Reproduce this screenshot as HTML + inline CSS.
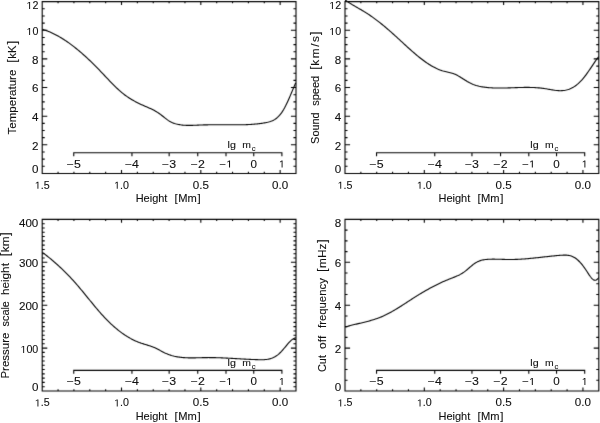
<!DOCTYPE html>
<html><head><meta charset="utf-8"><style>html,body{margin:0;padding:0;background:#fff;width:600px;height:423px;overflow:hidden}svg{display:block}</style></head>
<body><svg width="600" height="423" viewBox="0 0 600 423" font-family='"Liberation Sans", sans-serif' font-size="10.2" fill="#000">
<defs><filter id="bl" filterUnits="userSpaceOnUse" x="0" y="0" width="600" height="423" color-interpolation-filters="sRGB"><feConvolveMatrix order="3" kernelMatrix="0.0100 0.0800 0.0100 0.0800 0.6400 0.0800 0.0100 0.0800 0.0100" edgeMode="duplicate" preserveAlpha="true"/></filter></defs>
<filter id="bt" filterUnits="userSpaceOnUse" x="0" y="0" width="600" height="423" color-interpolation-filters="sRGB"><feOffset dx="0" dy="0"/></filter>
<rect width="600" height="423" fill="#fff"/>
<g filter="url(#bl)"><rect width="600" height="423" fill="#fff"/>
<path d="M42.2,1.65H296V173.45H42.2ZM58.06,173.45v-1.72M58.06,1.65v1.72M73.92,173.45v-1.72M73.92,1.65v1.72M89.79,173.45v-1.72M89.79,1.65v1.72M105.65,173.45v-1.72M105.65,1.65v1.72M121.51,173.45v-3.44M121.51,1.65v3.44M137.38,173.45v-1.72M137.38,1.65v1.72M153.24,173.45v-1.72M153.24,1.65v1.72M169.1,173.45v-1.72M169.1,1.65v1.72M184.96,173.45v-1.72M184.96,1.65v1.72M200.82,173.45v-3.44M200.82,1.65v3.44M216.69,173.45v-1.72M216.69,1.65v1.72M232.55,173.45v-1.72M232.55,1.65v1.72M248.41,173.45v-1.72M248.41,1.65v1.72M264.28,173.45v-1.72M264.28,1.65v1.72M280.14,173.45v-3.44M280.14,1.65v3.44M42.2,166.29h2.54M296,166.29h-2.54M42.2,159.13h2.54M296,159.13h-2.54M42.2,151.97h2.54M296,151.97h-2.54M42.2,144.82h5.08M296,144.82h-5.08M42.2,137.66h2.54M296,137.66h-2.54M42.2,130.5h2.54M296,130.5h-2.54M42.2,123.34h2.54M296,123.34h-2.54M42.2,116.18h5.08M296,116.18h-5.08M42.2,109.02h2.54M296,109.02h-2.54M42.2,101.87h2.54M296,101.87h-2.54M42.2,94.71h2.54M296,94.71h-2.54M42.2,87.55h5.08M296,87.55h-5.08M42.2,80.39h2.54M296,80.39h-2.54M42.2,73.23h2.54M296,73.23h-2.54M42.2,66.08h2.54M296,66.08h-2.54M42.2,58.92h5.08M296,58.92h-5.08M42.2,51.76h2.54M296,51.76h-2.54M42.2,44.6h2.54M296,44.6h-2.54M42.2,37.44h2.54M296,37.44h-2.54M42.2,30.28h5.08M296,30.28h-5.08M42.2,23.12h2.54M296,23.12h-2.54M42.2,15.97h2.54M296,15.97h-2.54M42.2,8.81h2.54M296,8.81h-2.54M73.75,156.2V152.8H281.9v3.4M131.95,152.8v3.4M169.15,152.8v3.4M197.75,152.8v3.4M226,152.8v3.4M253.75,152.8v3.4" fill="none" stroke="#000" stroke-width="1.1"/>
<path d="M42.5,29.35 43.5,29.65 44.5,29.98 45.5,30.32 46.5,30.67 47.5,31.05 48.5,31.44 49.5,31.85 50.5,32.28 51.5,32.72 52.5,33.19 53.5,33.66 54.5,34.16 55.5,34.66 56.5,35.19 57.5,35.73 58.5,36.29 59.5,36.86 60.5,37.45 61.5,38.05 62.5,38.67 63.5,39.3 64.5,39.94 65.5,40.6 66.5,41.28 67.5,41.97 68.5,42.67 69.5,43.38 70.5,44.11 71.5,44.85 72.5,45.61 73.5,46.38 74.5,47.16 75.5,47.95 76.5,48.75 77.5,49.57 78.5,50.4 79.5,51.24 80.5,52.09 81.5,52.96 82.5,53.83 83.5,54.72 84.5,55.61 85.5,56.52 86.5,57.44 87.5,58.36 88.5,59.3 89.5,60.25 90.5,61.21 91.5,62.17 92.5,63.15 93.5,64.14 94.5,65.13 95.5,66.13 96.5,67.14 97.5,68.17 98.5,69.19 99.5,70.23 100.5,71.27 101.5,72.32 102.5,73.38 103.5,74.44 104.5,75.5 105.5,76.56 106.5,77.62 107.5,78.68 108.5,79.74 109.5,80.78 110.5,81.82 111.5,82.85 112.5,83.87 113.5,84.88 114.5,85.88 115.5,86.86 116.5,87.82 117.5,88.76 118.5,89.68 119.5,90.58 120.5,91.46 121.5,92.31 122.5,93.14 123.5,93.94 124.5,94.71 125.5,95.45 126.5,96.17 127.5,96.87 128.5,97.54 129.5,98.19 130.5,98.81 131.5,99.42 132.5,100.01 133.5,100.58 134.5,101.13 135.5,101.67 136.5,102.19 137.5,102.7 138.5,103.2 139.5,103.69 140.5,104.16 141.5,104.63 142.5,105.08 143.5,105.53 144.5,105.98 145.5,106.41 146.5,106.85 147.5,107.28 148.5,107.72 149.5,108.17 150.5,108.62 151.5,109.09 152.5,109.58 153.5,110.08 154.5,110.61 155.5,111.16 156.5,111.74 157.5,112.36 158.5,113.01 159.5,113.7 160.5,114.43 161.5,115.19 162.5,115.98 163.5,116.79 164.5,117.6 165.5,118.4 166.5,119.17 167.5,119.91 168.5,120.61 169.5,121.24 170.5,121.81 171.5,122.31 172.5,122.74 173.5,123.12 174.5,123.45 175.5,123.75 176.5,124.02 177.5,124.26 178.5,124.48 179.5,124.66 180.5,124.83 181.5,124.97 182.5,125.08 183.5,125.18 184.5,125.26 185.5,125.32 186.5,125.36 187.5,125.39 188.5,125.4 189.5,125.41 190.5,125.4 191.5,125.38 192.5,125.35 193.5,125.32 194.5,125.28 195.5,125.24 196.5,125.2 197.5,125.15 198.5,125.1 199.5,125.06 200.5,125.02 201.5,124.98 202.5,124.95 203.5,124.92 204.5,124.89 205.5,124.87 206.5,124.84 207.5,124.83 208.5,124.81 209.5,124.8 210.5,124.78 211.5,124.77 212.5,124.77 213.5,124.76 214.5,124.76 215.5,124.76 216.5,124.75 217.5,124.75 218.5,124.76 219.5,124.76 220.5,124.76 221.5,124.77 222.5,124.77 223.5,124.78 224.5,124.78 225.5,124.79 226.5,124.79 227.5,124.8 228.5,124.8 229.5,124.81 230.5,124.81 231.5,124.81 232.5,124.82 233.5,124.82 234.5,124.82 235.5,124.82 236.5,124.81 237.5,124.81 238.5,124.8 239.5,124.79 240.5,124.78 241.5,124.77 242.5,124.75 243.5,124.73 244.5,124.7 245.5,124.68 246.5,124.64 247.5,124.6 248.5,124.56 249.5,124.51 250.5,124.45 251.5,124.39 252.5,124.32 253.5,124.25 254.5,124.16 255.5,124.07 256.5,123.98 257.5,123.87 258.5,123.75 259.5,123.63 260.5,123.5 261.5,123.35 262.5,123.2 263.5,123.04 264.5,122.86 265.5,122.68 266.5,122.48 267.5,122.27 268.5,122.03 269.5,121.76 270.5,121.45 271.5,121.09 272.5,120.67 273.5,120.18 274.5,119.62 275.5,118.97 276.5,118.23 277.5,117.39 278.5,116.44 279.5,115.37 280.5,114.18 281.5,112.85 282.5,111.38 283.5,109.75 284.5,107.98 285.5,106.07 286.5,104.05 287.5,101.93 288.5,99.73 289.5,97.46 290.5,95.13 291.5,92.78 292.5,90.4 293.5,88.02 294.5,85.66 295.5,83.33 295.7,82.87" fill="none" stroke="#000" stroke-width="1.1" stroke-linejoin="round"/>
<path d="M345,1.65H598.8V173.45H345ZM360.86,173.45v-1.72M360.86,1.65v1.72M376.72,173.45v-1.72M376.72,1.65v1.72M392.59,173.45v-1.72M392.59,1.65v1.72M408.45,173.45v-1.72M408.45,1.65v1.72M424.31,173.45v-3.44M424.31,1.65v3.44M440.18,173.45v-1.72M440.18,1.65v1.72M456.04,173.45v-1.72M456.04,1.65v1.72M471.9,173.45v-1.72M471.9,1.65v1.72M487.76,173.45v-1.72M487.76,1.65v1.72M503.62,173.45v-3.44M503.62,1.65v3.44M519.49,173.45v-1.72M519.49,1.65v1.72M535.35,173.45v-1.72M535.35,1.65v1.72M551.21,173.45v-1.72M551.21,1.65v1.72M567.08,173.45v-1.72M567.08,1.65v1.72M582.94,173.45v-3.44M582.94,1.65v3.44M345,166.29h2.54M598.8,166.29h-2.54M345,159.13h2.54M598.8,159.13h-2.54M345,151.97h2.54M598.8,151.97h-2.54M345,144.82h5.08M598.8,144.82h-5.08M345,137.66h2.54M598.8,137.66h-2.54M345,130.5h2.54M598.8,130.5h-2.54M345,123.34h2.54M598.8,123.34h-2.54M345,116.18h5.08M598.8,116.18h-5.08M345,109.02h2.54M598.8,109.02h-2.54M345,101.87h2.54M598.8,101.87h-2.54M345,94.71h2.54M598.8,94.71h-2.54M345,87.55h5.08M598.8,87.55h-5.08M345,80.39h2.54M598.8,80.39h-2.54M345,73.23h2.54M598.8,73.23h-2.54M345,66.08h2.54M598.8,66.08h-2.54M345,58.92h5.08M598.8,58.92h-5.08M345,51.76h2.54M598.8,51.76h-2.54M345,44.6h2.54M598.8,44.6h-2.54M345,37.44h2.54M598.8,37.44h-2.54M345,30.28h5.08M598.8,30.28h-5.08M345,23.12h2.54M598.8,23.12h-2.54M345,15.97h2.54M598.8,15.97h-2.54M345,8.81h2.54M598.8,8.81h-2.54M376.55,156.2V152.8H584.7v3.4M434.75,152.8v3.4M471.95,152.8v3.4M500.55,152.8v3.4M528.8,152.8v3.4M556.55,152.8v3.4" fill="none" stroke="#000" stroke-width="1.1"/>
<path d="M345.2,0.07 346.2,0.77 347.2,1.45 348.2,2.11 349.2,2.75 350.2,3.38 351.2,4 352.2,4.61 353.2,5.2 354.2,5.79 355.2,6.38 356.2,6.96 357.2,7.54 358.2,8.11 359.2,8.69 360.2,9.27 361.2,9.85 362.2,10.44 363.2,11.03 364.2,11.64 365.2,12.25 366.2,12.87 367.2,13.51 368.2,14.16 369.2,14.82 370.2,15.5 371.2,16.19 372.2,16.89 373.2,17.6 374.2,18.33 375.2,19.07 376.2,19.82 377.2,20.57 378.2,21.34 379.2,22.13 380.2,22.92 381.2,23.72 382.2,24.53 383.2,25.35 384.2,26.17 385.2,27.01 386.2,27.86 387.2,28.71 388.2,29.57 389.2,30.44 390.2,31.32 391.2,32.2 392.2,33.09 393.2,33.98 394.2,34.89 395.2,35.79 396.2,36.7 397.2,37.62 398.2,38.54 399.2,39.46 400.2,40.38 401.2,41.3 402.2,42.22 403.2,43.15 404.2,44.07 405.2,44.99 406.2,45.9 407.2,46.81 408.2,47.72 409.2,48.62 410.2,49.52 411.2,50.41 412.2,51.29 413.2,52.17 414.2,53.03 415.2,53.89 416.2,54.73 417.2,55.57 418.2,56.39 419.2,57.2 420.2,58 421.2,58.78 422.2,59.55 423.2,60.3 424.2,61.04 425.2,61.76 426.2,62.46 427.2,63.14 428.2,63.81 429.2,64.45 430.2,65.08 431.2,65.68 432.2,66.26 433.2,66.82 434.2,67.35 435.2,67.86 436.2,68.35 437.2,68.81 438.2,69.24 439.2,69.64 440.2,70.02 441.2,70.37 442.2,70.69 443.2,70.98 444.2,71.24 445.2,71.49 446.2,71.73 447.2,71.96 448.2,72.19 449.2,72.42 450.2,72.67 451.2,72.95 452.2,73.24 453.2,73.57 454.2,73.94 455.2,74.36 456.2,74.82 457.2,75.32 458.2,75.87 459.2,76.44 460.2,77.04 461.2,77.66 462.2,78.29 463.2,78.93 464.2,79.57 465.2,80.21 466.2,80.83 467.2,81.44 468.2,82.02 469.2,82.58 470.2,83.1 471.2,83.58 472.2,84.03 473.2,84.44 474.2,84.82 475.2,85.16 476.2,85.48 477.2,85.76 478.2,86.02 479.2,86.26 480.2,86.47 481.2,86.67 482.2,86.84 483.2,87 484.2,87.14 485.2,87.27 486.2,87.39 487.2,87.5 488.2,87.59 489.2,87.68 490.2,87.75 491.2,87.82 492.2,87.88 493.2,87.93 494.2,87.97 495.2,88 496.2,88.02 497.2,88.04 498.2,88.05 499.2,88.06 500.2,88.06 501.2,88.05 502.2,88.04 503.2,88.03 504.2,88.01 505.2,87.99 506.2,87.96 507.2,87.93 508.2,87.9 509.2,87.87 510.2,87.84 511.2,87.8 512.2,87.77 513.2,87.73 514.2,87.69 515.2,87.66 516.2,87.62 517.2,87.59 518.2,87.56 519.2,87.53 520.2,87.5 521.2,87.48 522.2,87.45 523.2,87.44 524.2,87.42 525.2,87.41 526.2,87.4 527.2,87.4 528.2,87.41 529.2,87.42 530.2,87.43 531.2,87.46 532.2,87.49 533.2,87.52 534.2,87.57 535.2,87.62 536.2,87.68 537.2,87.75 538.2,87.83 539.2,87.92 540.2,88.02 541.2,88.13 542.2,88.24 543.2,88.37 544.2,88.52 545.2,88.67 546.2,88.83 547.2,89 548.2,89.18 549.2,89.36 550.2,89.53 551.2,89.71 552.2,89.88 553.2,90.04 554.2,90.18 555.2,90.32 556.2,90.43 557.2,90.53 558.2,90.61 559.2,90.66 560.2,90.68 561.2,90.67 562.2,90.63 563.2,90.55 564.2,90.44 565.2,90.28 566.2,90.08 567.2,89.83 568.2,89.54 569.2,89.19 570.2,88.79 571.2,88.33 572.2,87.82 573.2,87.26 574.2,86.64 575.2,85.96 576.2,85.22 577.2,84.43 578.2,83.58 579.2,82.67 580.2,81.69 581.2,80.66 582.2,79.57 583.2,78.41 584.2,77.19 585.2,75.9 586.2,74.57 587.2,73.18 588.2,71.75 589.2,70.3 590.2,68.82 591.2,67.33 592.2,65.84 593.2,64.34 594.2,62.86 595.2,61.4 596.2,59.97 597.2,58.57 598.2,57.22 598.6,56.69" fill="none" stroke="#000" stroke-width="1.1" stroke-linejoin="round"/>
<path d="M42.2,219.4H296V391H42.2ZM58.06,391v-1.72M58.06,219.4v1.72M73.92,391v-1.72M73.92,219.4v1.72M89.79,391v-1.72M89.79,219.4v1.72M105.65,391v-1.72M105.65,219.4v1.72M121.51,391v-3.43M121.51,219.4v3.43M137.38,391v-1.72M137.38,219.4v1.72M153.24,391v-1.72M153.24,219.4v1.72M169.1,391v-1.72M169.1,219.4v1.72M184.96,391v-1.72M184.96,219.4v1.72M200.82,391v-3.43M200.82,219.4v3.43M216.69,391v-1.72M216.69,219.4v1.72M232.55,391v-1.72M232.55,219.4v1.72M248.41,391v-1.72M248.41,219.4v1.72M264.28,391v-1.72M264.28,219.4v1.72M280.14,391v-3.43M280.14,219.4v3.43M42.2,386.71h2.54M296,386.71h-2.54M42.2,382.42h2.54M296,382.42h-2.54M42.2,378.13h2.54M296,378.13h-2.54M42.2,373.84h2.54M296,373.84h-2.54M42.2,369.55h2.54M296,369.55h-2.54M42.2,365.26h2.54M296,365.26h-2.54M42.2,360.97h2.54M296,360.97h-2.54M42.2,356.68h2.54M296,356.68h-2.54M42.2,352.39h2.54M296,352.39h-2.54M42.2,348.1h5.08M296,348.1h-5.08M42.2,343.81h2.54M296,343.81h-2.54M42.2,339.52h2.54M296,339.52h-2.54M42.2,335.23h2.54M296,335.23h-2.54M42.2,330.94h2.54M296,330.94h-2.54M42.2,326.65h2.54M296,326.65h-2.54M42.2,322.36h2.54M296,322.36h-2.54M42.2,318.07h2.54M296,318.07h-2.54M42.2,313.78h2.54M296,313.78h-2.54M42.2,309.49h2.54M296,309.49h-2.54M42.2,305.2h5.08M296,305.2h-5.08M42.2,300.91h2.54M296,300.91h-2.54M42.2,296.62h2.54M296,296.62h-2.54M42.2,292.33h2.54M296,292.33h-2.54M42.2,288.04h2.54M296,288.04h-2.54M42.2,283.75h2.54M296,283.75h-2.54M42.2,279.46h2.54M296,279.46h-2.54M42.2,275.17h2.54M296,275.17h-2.54M42.2,270.88h2.54M296,270.88h-2.54M42.2,266.59h2.54M296,266.59h-2.54M42.2,262.3h5.08M296,262.3h-5.08M42.2,258.01h2.54M296,258.01h-2.54M42.2,253.72h2.54M296,253.72h-2.54M42.2,249.43h2.54M296,249.43h-2.54M42.2,245.14h2.54M296,245.14h-2.54M42.2,240.85h2.54M296,240.85h-2.54M42.2,236.56h2.54M296,236.56h-2.54M42.2,232.27h2.54M296,232.27h-2.54M42.2,227.98h2.54M296,227.98h-2.54M42.2,223.69h2.54M296,223.69h-2.54M73.75,373.75V370.35H281.9v3.4M131.95,370.35v3.4M169.15,370.35v3.4M197.75,370.35v3.4M226,370.35v3.4M253.75,370.35v3.4" fill="none" stroke="#000" stroke-width="1.1"/>
<path d="M42.4,252.35 43.4,253.11 44.4,253.88 45.4,254.67 46.4,255.45 47.4,256.25 48.4,257.06 49.4,257.87 50.4,258.7 51.4,259.53 52.4,260.38 53.4,261.23 54.4,262.09 55.4,262.97 56.4,263.85 57.4,264.74 58.4,265.65 59.4,266.57 60.4,267.5 61.4,268.44 62.4,269.39 63.4,270.35 64.4,271.33 65.4,272.32 66.4,273.32 67.4,274.33 68.4,275.36 69.4,276.4 70.4,277.46 71.4,278.53 72.4,279.61 73.4,280.71 74.4,281.82 75.4,282.95 76.4,284.09 77.4,285.25 78.4,286.42 79.4,287.6 80.4,288.79 81.4,289.99 82.4,291.19 83.4,292.41 84.4,293.62 85.4,294.85 86.4,296.07 87.4,297.3 88.4,298.53 89.4,299.76 90.4,300.98 91.4,302.21 92.4,303.43 93.4,304.64 94.4,305.85 95.4,307.05 96.4,308.24 97.4,309.42 98.4,310.59 99.4,311.74 100.4,312.89 101.4,314.01 102.4,315.13 103.4,316.22 104.4,317.3 105.4,318.35 106.4,319.39 107.4,320.41 108.4,321.41 109.4,322.39 110.4,323.35 111.4,324.29 112.4,325.21 113.4,326.11 114.4,326.99 115.4,327.85 116.4,328.69 117.4,329.52 118.4,330.32 119.4,331.1 120.4,331.86 121.4,332.6 122.4,333.33 123.4,334.03 124.4,334.71 125.4,335.37 126.4,336.02 127.4,336.64 128.4,337.24 129.4,337.82 130.4,338.39 131.4,338.93 132.4,339.45 133.4,339.95 134.4,340.43 135.4,340.89 136.4,341.34 137.4,341.76 138.4,342.16 139.4,342.54 140.4,342.89 141.4,343.24 142.4,343.56 143.4,343.88 144.4,344.19 145.4,344.49 146.4,344.8 147.4,345.1 148.4,345.42 149.4,345.74 150.4,346.07 151.4,346.42 152.4,346.79 153.4,347.19 154.4,347.61 155.4,348.06 156.4,348.54 157.4,349.04 158.4,349.56 159.4,350.09 160.4,350.62 161.4,351.16 162.4,351.69 163.4,352.2 164.4,352.7 165.4,353.17 166.4,353.61 167.4,354.02 168.4,354.41 169.4,354.78 170.4,355.11 171.4,355.43 172.4,355.72 173.4,355.98 174.4,356.23 175.4,356.45 176.4,356.66 177.4,356.84 178.4,357.01 179.4,357.16 180.4,357.29 181.4,357.41 182.4,357.51 183.4,357.6 184.4,357.67 185.4,357.73 186.4,357.78 187.4,357.82 188.4,357.85 189.4,357.87 190.4,357.88 191.4,357.88 192.4,357.88 193.4,357.87 194.4,357.85 195.4,357.83 196.4,357.81 197.4,357.79 198.4,357.76 199.4,357.73 200.4,357.7 201.4,357.68 202.4,357.65 203.4,357.63 204.4,357.61 205.4,357.59 206.4,357.58 207.4,357.58 208.4,357.57 209.4,357.58 210.4,357.58 211.4,357.59 212.4,357.6 213.4,357.62 214.4,357.64 215.4,357.66 216.4,357.69 217.4,357.72 218.4,357.75 219.4,357.78 220.4,357.82 221.4,357.86 222.4,357.9 223.4,357.95 224.4,357.99 225.4,358.04 226.4,358.09 227.4,358.14 228.4,358.19 229.4,358.25 230.4,358.3 231.4,358.36 232.4,358.41 233.4,358.47 234.4,358.53 235.4,358.58 236.4,358.64 237.4,358.7 238.4,358.76 239.4,358.82 240.4,358.87 241.4,358.93 242.4,358.99 243.4,359.04 244.4,359.1 245.4,359.15 246.4,359.2 247.4,359.25 248.4,359.3 249.4,359.35 250.4,359.4 251.4,359.44 252.4,359.48 253.4,359.52 254.4,359.56 255.4,359.6 256.4,359.63 257.4,359.66 258.4,359.69 259.4,359.71 260.4,359.73 261.4,359.73 262.4,359.72 263.4,359.69 264.4,359.64 265.4,359.56 266.4,359.45 267.4,359.31 268.4,359.12 269.4,358.9 270.4,358.63 271.4,358.31 272.4,357.93 273.4,357.5 274.4,357 275.4,356.44 276.4,355.81 277.4,355.11 278.4,354.33 279.4,353.47 280.4,352.52 281.4,351.49 282.4,350.38 283.4,349.21 284.4,348.01 285.4,346.78 286.4,345.56 287.4,344.36 288.4,343.21 289.4,342.11 290.4,341.09 291.4,340.17 292.4,339.37 293.4,338.71 294.4,338.21 295.4,337.88 295.8,337.81" fill="none" stroke="#000" stroke-width="1.1" stroke-linejoin="round"/>
<path d="M345,219.4H598.8V391H345ZM360.86,391v-1.72M360.86,219.4v1.72M376.72,391v-1.72M376.72,219.4v1.72M392.59,391v-1.72M392.59,219.4v1.72M408.45,391v-1.72M408.45,219.4v1.72M424.31,391v-3.43M424.31,219.4v3.43M440.18,391v-1.72M440.18,219.4v1.72M456.04,391v-1.72M456.04,219.4v1.72M471.9,391v-1.72M471.9,219.4v1.72M487.76,391v-1.72M487.76,219.4v1.72M503.62,391v-3.43M503.62,219.4v3.43M519.49,391v-1.72M519.49,219.4v1.72M535.35,391v-1.72M535.35,219.4v1.72M551.21,391v-1.72M551.21,219.4v1.72M567.08,391v-1.72M567.08,219.4v1.72M582.94,391v-3.43M582.94,219.4v3.43M345,380.27h2.54M598.8,380.27h-2.54M345,369.55h2.54M598.8,369.55h-2.54M345,358.82h2.54M598.8,358.82h-2.54M345,348.1h5.08M598.8,348.1h-5.08M345,337.38h2.54M598.8,337.38h-2.54M345,326.65h2.54M598.8,326.65h-2.54M345,315.93h2.54M598.8,315.93h-2.54M345,305.2h5.08M598.8,305.2h-5.08M345,294.48h2.54M598.8,294.48h-2.54M345,283.75h2.54M598.8,283.75h-2.54M345,273.02h2.54M598.8,273.02h-2.54M345,262.3h5.08M598.8,262.3h-5.08M345,251.58h2.54M598.8,251.58h-2.54M345,240.85h2.54M598.8,240.85h-2.54M345,230.12h2.54M598.8,230.12h-2.54M376.55,373.75V370.35H584.7v3.4M434.75,370.35v3.4M471.95,370.35v3.4M500.55,370.35v3.4M528.8,370.35v3.4M556.55,370.35v3.4" fill="none" stroke="#000" stroke-width="1.1"/>
<path d="M345.3,327 346.3,326.7 347.3,326.41 348.3,326.13 349.3,325.86 350.3,325.59 351.3,325.33 352.3,325.08 353.3,324.83 354.3,324.59 355.3,324.34 356.3,324.1 357.3,323.87 358.3,323.63 359.3,323.4 360.3,323.16 361.3,322.92 362.3,322.68 363.3,322.44 364.3,322.2 365.3,321.95 366.3,321.7 367.3,321.44 368.3,321.18 369.3,320.91 370.3,320.63 371.3,320.34 372.3,320.05 373.3,319.74 374.3,319.43 375.3,319.1 376.3,318.76 377.3,318.41 378.3,318.05 379.3,317.67 380.3,317.28 381.3,316.88 382.3,316.45 383.3,316.01 384.3,315.56 385.3,315.08 386.3,314.6 387.3,314.09 388.3,313.58 389.3,313.05 390.3,312.51 391.3,311.96 392.3,311.39 393.3,310.82 394.3,310.23 395.3,309.64 396.3,309.04 397.3,308.43 398.3,307.81 399.3,307.19 400.3,306.56 401.3,305.92 402.3,305.28 403.3,304.64 404.3,303.99 405.3,303.35 406.3,302.7 407.3,302.05 408.3,301.4 409.3,300.74 410.3,300.09 411.3,299.45 412.3,298.8 413.3,298.16 414.3,297.52 415.3,296.88 416.3,296.25 417.3,295.63 418.3,295.01 419.3,294.4 420.3,293.79 421.3,293.19 422.3,292.59 423.3,292.01 424.3,291.42 425.3,290.85 426.3,290.28 427.3,289.71 428.3,289.16 429.3,288.6 430.3,288.06 431.3,287.52 432.3,286.99 433.3,286.47 434.3,285.95 435.3,285.44 436.3,284.94 437.3,284.44 438.3,283.95 439.3,283.47 440.3,283 441.3,282.53 442.3,282.07 443.3,281.62 444.3,281.18 445.3,280.74 446.3,280.31 447.3,279.89 448.3,279.48 449.3,279.07 450.3,278.68 451.3,278.29 452.3,277.9 453.3,277.51 454.3,277.12 455.3,276.71 456.3,276.29 457.3,275.85 458.3,275.39 459.3,274.9 460.3,274.38 461.3,273.82 462.3,273.22 463.3,272.58 464.3,271.89 465.3,271.15 466.3,270.35 467.3,269.52 468.3,268.66 469.3,267.78 470.3,266.91 471.3,266.05 472.3,265.22 473.3,264.42 474.3,263.68 475.3,263 476.3,262.4 477.3,261.86 478.3,261.39 479.3,260.98 480.3,260.63 481.3,260.32 482.3,260.07 483.3,259.85 484.3,259.68 485.3,259.54 486.3,259.43 487.3,259.34 488.3,259.28 489.3,259.24 490.3,259.21 491.3,259.18 492.3,259.17 493.3,259.17 494.3,259.17 495.3,259.18 496.3,259.19 497.3,259.21 498.3,259.24 499.3,259.26 500.3,259.29 501.3,259.32 502.3,259.35 503.3,259.38 504.3,259.41 505.3,259.44 506.3,259.46 507.3,259.48 508.3,259.49 509.3,259.5 510.3,259.51 511.3,259.5 512.3,259.49 513.3,259.48 514.3,259.45 515.3,259.42 516.3,259.39 517.3,259.35 518.3,259.3 519.3,259.25 520.3,259.2 521.3,259.14 522.3,259.07 523.3,259 524.3,258.93 525.3,258.85 526.3,258.77 527.3,258.69 528.3,258.6 529.3,258.51 530.3,258.42 531.3,258.32 532.3,258.22 533.3,258.12 534.3,258.02 535.3,257.91 536.3,257.81 537.3,257.7 538.3,257.59 539.3,257.48 540.3,257.37 541.3,257.26 542.3,257.14 543.3,257.03 544.3,256.92 545.3,256.81 546.3,256.7 547.3,256.59 548.3,256.48 549.3,256.37 550.3,256.27 551.3,256.16 552.3,256.06 553.3,255.96 554.3,255.86 555.3,255.76 556.3,255.66 557.3,255.57 558.3,255.48 559.3,255.4 560.3,255.32 561.3,255.24 562.3,255.18 563.3,255.13 564.3,255.11 565.3,255.11 566.3,255.15 567.3,255.23 568.3,255.36 569.3,255.54 570.3,255.78 571.3,256.08 572.3,256.46 573.3,256.91 574.3,257.44 575.3,258.06 576.3,258.78 577.3,259.59 578.3,260.5 579.3,261.49 580.3,262.57 581.3,263.72 582.3,264.95 583.3,266.25 584.3,267.62 585.3,269.05 586.3,270.53 587.3,272.06 588.3,273.6 589.3,275.11 590.3,276.51 591.3,277.78 592.3,278.84 593.3,279.64 594.3,280.14 595.3,280.28 596.3,280 597.3,279.25 598.3,277.97 598.6,277.47" fill="none" stroke="#000" stroke-width="1.1" stroke-linejoin="round"/>
</g>
<g fill="#111" stroke="#111" stroke-width="0.1" filter="url(#bt)"><g><text transform="translate(34.76,188.85) scale(1.05,1)"> .5</text><path d="M515 0V1237L197 1010V1180L530 1409H696V0Z" stroke="none" transform="translate(34.76,188.85) scale(0.00523,-0.00498)"/><text transform="translate(114.07,188.85) scale(1.05,1)"> .0</text><path d="M515 0V1237L197 1010V1180L530 1409H696V0Z" stroke="none" transform="translate(114.07,188.85) scale(0.00523,-0.00498)"/><text transform="translate(192.74,188.85) scale(1.14,1)">0.5</text><text transform="translate(272.06,188.85) scale(1.14,1)">0.0</text><text transform="translate(31.88,173.35) scale(1.14,1)">0</text><text transform="translate(31.88,149.62) scale(1.14,1)">2</text><text transform="translate(31.88,120.98) scale(1.14,1)">4</text><text transform="translate(31.88,92.35) scale(1.14,1)">6</text><text transform="translate(31.88,63.72) scale(1.14,1)">8</text><text transform="translate(26.44,35.08) scale(1.05,1)"> 0</text><path d="M515 0V1237L197 1010V1180L530 1409H696V0Z" stroke="none" transform="translate(26.44,35.08) scale(0.00523,-0.00498)"/><text transform="translate(26.44,9) scale(1.05,1)"> 2</text><path d="M515 0V1237L197 1010V1180L530 1409H696V0Z" stroke="none" transform="translate(26.44,9) scale(0.00523,-0.00498)"/><text transform="translate(66.71,167.55) scale(1.21,1)">−5</text><text transform="translate(124.91,167.55) scale(1.21,1)">−4</text><text transform="translate(162.11,167.55) scale(1.21,1)">−3</text><text transform="translate(190.71,167.55) scale(1.21,1)">−2</text><text transform="translate(219.49,167.55) scale(1.12,1)">− </text><path d="M515 0V1237L197 1010V1180L530 1409H696V0Z" stroke="none" transform="translate(226.16,167.55) scale(0.00558,-0.00498)"/><text transform="translate(250.52,167.55) scale(1.14,1)">0</text><text transform="translate(278.92,167.55) scale(1.05,1)"> </text><path d="M515 0V1237L197 1010V1180L530 1409H696V0Z" stroke="none" transform="translate(278.92,167.55) scale(0.00523,-0.00498)"/><text transform="translate(228.25,148.05) scale(1.1118,1)" x="-0.65" y="0" font-size="9.6">lg</text><text transform="translate(242.85,148.05) scale(1.0852,1)" x="-0.64" y="0" font-size="9.6">m</text><text x="251.7" y="151.1" font-size="7.6">c</text><text transform="translate(136.55,202.05) scale(1.0779,1)" x="-0.84" y="0">Height</text><text transform="translate(175.4,202.05) scale(1.0014,1)" x="-0.82" y="0" font-size="11.5">[</text><text transform="translate(179.19,202.05) scale(1.0929,1)" x="-0.84" y="0">Mm</text><text transform="translate(197.61,202.05) scale(1.0014,1)" x="-0.09" y="0" font-size="11.5">]</text><text transform="translate(16,134.2) rotate(-90) scale(1.1315,1.04)" x="-0.23" y="0">Temperature</text><text transform="translate(16,61.7) rotate(-90) scale(1.0014,1.04)" x="-0.82" y="0" font-size="11.5">[</text><text transform="translate(16,57.91) rotate(-90) scale(1.1010,1.04)" x="-0.69" y="0">kK</text><text transform="translate(16,44.19) rotate(-90) scale(1.0014,1.04)" x="-0.09" y="0" font-size="11.5">]</text></g>
<g><text transform="translate(337.56,188.85) scale(1.05,1)"> .5</text><path d="M515 0V1237L197 1010V1180L530 1409H696V0Z" stroke="none" transform="translate(337.56,188.85) scale(0.00523,-0.00498)"/><text transform="translate(416.87,188.85) scale(1.05,1)"> .0</text><path d="M515 0V1237L197 1010V1180L530 1409H696V0Z" stroke="none" transform="translate(416.87,188.85) scale(0.00523,-0.00498)"/><text transform="translate(495.54,188.85) scale(1.14,1)">0.5</text><text transform="translate(574.86,188.85) scale(1.14,1)">0.0</text><text transform="translate(334.68,173.35) scale(1.14,1)">0</text><text transform="translate(334.68,149.62) scale(1.14,1)">2</text><text transform="translate(334.68,120.98) scale(1.14,1)">4</text><text transform="translate(334.68,92.35) scale(1.14,1)">6</text><text transform="translate(334.68,63.72) scale(1.14,1)">8</text><text transform="translate(329.24,35.08) scale(1.05,1)"> 0</text><path d="M515 0V1237L197 1010V1180L530 1409H696V0Z" stroke="none" transform="translate(329.24,35.08) scale(0.00523,-0.00498)"/><text transform="translate(329.24,9) scale(1.05,1)"> 2</text><path d="M515 0V1237L197 1010V1180L530 1409H696V0Z" stroke="none" transform="translate(329.24,9) scale(0.00523,-0.00498)"/><text transform="translate(369.51,167.55) scale(1.21,1)">−5</text><text transform="translate(427.71,167.55) scale(1.21,1)">−4</text><text transform="translate(464.91,167.55) scale(1.21,1)">−3</text><text transform="translate(493.51,167.55) scale(1.21,1)">−2</text><text transform="translate(522.29,167.55) scale(1.12,1)">− </text><path d="M515 0V1237L197 1010V1180L530 1409H696V0Z" stroke="none" transform="translate(528.96,167.55) scale(0.00558,-0.00498)"/><text transform="translate(553.32,167.55) scale(1.14,1)">0</text><text transform="translate(581.72,167.55) scale(1.05,1)"> </text><path d="M515 0V1237L197 1010V1180L530 1409H696V0Z" stroke="none" transform="translate(581.72,167.55) scale(0.00523,-0.00498)"/><text transform="translate(531.05,148.05) scale(1.1118,1)" x="-0.65" y="0" font-size="9.6">lg</text><text transform="translate(545.65,148.05) scale(1.0852,1)" x="-0.64" y="0" font-size="9.6">m</text><text x="554.5" y="151.1" font-size="7.6">c</text><text transform="translate(439.35,202.05) scale(1.0779,1)" x="-0.84" y="0">Height</text><text transform="translate(478.2,202.05) scale(1.0014,1)" x="-0.82" y="0" font-size="11.5">[</text><text transform="translate(481.99,202.05) scale(1.0929,1)" x="-0.84" y="0">Mm</text><text transform="translate(500.41,202.05) scale(1.0014,1)" x="-0.09" y="0" font-size="11.5">]</text><text transform="translate(319.2,143.4) rotate(-90) scale(1.0714,1.04)" x="-0.46" y="0">Sound</text><text transform="translate(319.2,105.5) rotate(-90) scale(1.0801,1.04)" x="-0.28" y="0">speed</text><text transform="translate(319.2,68.7) rotate(-90) scale(1.0014,1.04)" x="-0.82" y="0" font-size="11.5">[</text><text transform="translate(319.2,64.91) rotate(-90) scale(1.1600,1.04)" x="-0.69" y="0" letter-spacing="1.343">km/s</text><text transform="translate(319.2,34.99) rotate(-90) scale(1.0014,1.04)" x="-0.09" y="0" font-size="11.5">]</text></g>
<g><text transform="translate(34.76,406.4) scale(1.05,1)"> .5</text><path d="M515 0V1237L197 1010V1180L530 1409H696V0Z" stroke="none" transform="translate(34.76,406.4) scale(0.00523,-0.00498)"/><text transform="translate(114.07,406.4) scale(1.05,1)"> .0</text><path d="M515 0V1237L197 1010V1180L530 1409H696V0Z" stroke="none" transform="translate(114.07,406.4) scale(0.00523,-0.00498)"/><text transform="translate(192.74,406.4) scale(1.14,1)">0.5</text><text transform="translate(272.06,406.4) scale(1.14,1)">0.0</text><text transform="translate(31.88,390.9) scale(1.14,1)">0</text><text transform="translate(20.48,352.9) scale(1.05,1)"> 00</text><path d="M515 0V1237L197 1010V1180L530 1409H696V0Z" stroke="none" transform="translate(20.48,352.9) scale(0.00523,-0.00498)"/><text transform="translate(18.95,310) scale(1.14,1)">200</text><text transform="translate(18.95,267.1) scale(1.14,1)">300</text><text transform="translate(18.95,226.75) scale(1.14,1)">400</text><text transform="translate(66.71,385.1) scale(1.21,1)">−5</text><text transform="translate(124.91,385.1) scale(1.21,1)">−4</text><text transform="translate(162.11,385.1) scale(1.21,1)">−3</text><text transform="translate(190.71,385.1) scale(1.21,1)">−2</text><text transform="translate(219.49,385.1) scale(1.12,1)">− </text><path d="M515 0V1237L197 1010V1180L530 1409H696V0Z" stroke="none" transform="translate(226.16,385.1) scale(0.00558,-0.00498)"/><text transform="translate(250.52,385.1) scale(1.14,1)">0</text><text transform="translate(278.92,385.1) scale(1.05,1)"> </text><path d="M515 0V1237L197 1010V1180L530 1409H696V0Z" stroke="none" transform="translate(278.92,385.1) scale(0.00523,-0.00498)"/><text transform="translate(228.25,365.6) scale(1.1118,1)" x="-0.65" y="0" font-size="9.6">lg</text><text transform="translate(242.85,365.6) scale(1.0852,1)" x="-0.64" y="0" font-size="9.6">m</text><text x="251.7" y="368.65" font-size="7.6">c</text><text transform="translate(136.55,419.6) scale(1.0779,1)" x="-0.84" y="0">Height</text><text transform="translate(175.4,419.6) scale(1.0014,1)" x="-0.82" y="0" font-size="11.5">[</text><text transform="translate(179.19,419.6) scale(1.0929,1)" x="-0.84" y="0">Mm</text><text transform="translate(197.61,419.6) scale(1.0014,1)" x="-0.09" y="0" font-size="11.5">]</text><text transform="translate(9,377.6) rotate(-90) scale(1.1284,1.04)" x="-0.84" y="0">Pressure</text><text transform="translate(9,326.2) rotate(-90) scale(1.0661,1.04)" x="-0.28" y="0">scale</text><text transform="translate(9,294.3) rotate(-90) scale(1.1515,1.04)" x="-0.71" y="0">height</text><text transform="translate(9,255.3) rotate(-90) scale(1.0014,1.04)" x="-0.82" y="0" font-size="11.5">[</text><text transform="translate(9,251.51) rotate(-90) scale(1.1600,1.04)" x="-0.69" y="0" letter-spacing="0.110">km</text><text transform="translate(9,235.69) rotate(-90) scale(1.0014,1.04)" x="-0.09" y="0" font-size="11.5">]</text></g>
<g><text transform="translate(337.56,406.4) scale(1.05,1)"> .5</text><path d="M515 0V1237L197 1010V1180L530 1409H696V0Z" stroke="none" transform="translate(337.56,406.4) scale(0.00523,-0.00498)"/><text transform="translate(416.87,406.4) scale(1.05,1)"> .0</text><path d="M515 0V1237L197 1010V1180L530 1409H696V0Z" stroke="none" transform="translate(416.87,406.4) scale(0.00523,-0.00498)"/><text transform="translate(495.54,406.4) scale(1.14,1)">0.5</text><text transform="translate(574.86,406.4) scale(1.14,1)">0.0</text><text transform="translate(334.68,390.9) scale(1.14,1)">0</text><text transform="translate(334.68,352.9) scale(1.14,1)">2</text><text transform="translate(334.68,310) scale(1.14,1)">4</text><text transform="translate(334.68,267.1) scale(1.14,1)">6</text><text transform="translate(334.68,226.75) scale(1.14,1)">8</text><text transform="translate(369.51,385.1) scale(1.21,1)">−5</text><text transform="translate(427.71,385.1) scale(1.21,1)">−4</text><text transform="translate(464.91,385.1) scale(1.21,1)">−3</text><text transform="translate(493.51,385.1) scale(1.21,1)">−2</text><text transform="translate(522.29,385.1) scale(1.12,1)">− </text><path d="M515 0V1237L197 1010V1180L530 1409H696V0Z" stroke="none" transform="translate(528.96,385.1) scale(0.00558,-0.00498)"/><text transform="translate(553.32,385.1) scale(1.14,1)">0</text><text transform="translate(581.72,385.1) scale(1.05,1)"> </text><path d="M515 0V1237L197 1010V1180L530 1409H696V0Z" stroke="none" transform="translate(581.72,385.1) scale(0.00523,-0.00498)"/><text transform="translate(531.05,365.6) scale(1.1118,1)" x="-0.65" y="0" font-size="9.6">lg</text><text transform="translate(545.65,365.6) scale(1.0852,1)" x="-0.64" y="0" font-size="9.6">m</text><text x="554.5" y="368.65" font-size="7.6">c</text><text transform="translate(439.35,419.6) scale(1.0779,1)" x="-0.84" y="0">Height</text><text transform="translate(478.2,419.6) scale(1.0014,1)" x="-0.82" y="0" font-size="11.5">[</text><text transform="translate(481.99,419.6) scale(1.0929,1)" x="-0.84" y="0">Mm</text><text transform="translate(500.41,419.6) scale(1.0014,1)" x="-0.09" y="0" font-size="11.5">]</text><text transform="translate(325.5,371.4) rotate(-90) scale(1.0602,1.04)" x="-0.52" y="0">Cut</text><text transform="translate(325.5,348.6) rotate(-90) scale(1.1600,1.04)" x="-0.43" y="0" letter-spacing="0.226">off</text><text transform="translate(325.5,327.8) rotate(-90) scale(1.1114,1.04)" x="-0.14" y="0">frequency</text><text transform="translate(325.5,270.9) rotate(-90) scale(1.0014,1.04)" x="-0.82" y="0" font-size="11.5">[</text><text transform="translate(325.5,267.11) rotate(-90) scale(1.1590,1.04)" x="-0.68" y="0">mHz</text><text transform="translate(325.5,242.69) rotate(-90) scale(1.0014,1.04)" x="-0.09" y="0" font-size="11.5">]</text></g></g>
</svg></body></html>
